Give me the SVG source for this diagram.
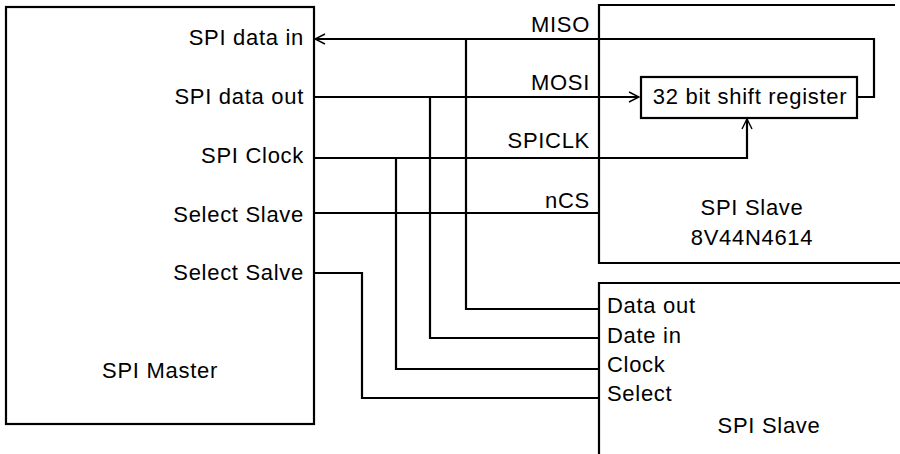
<svg xmlns="http://www.w3.org/2000/svg" width="900" height="454" viewBox="0 0 900 454">
<defs>
<style>
.box{fill:none;stroke:#000;stroke-width:2.2}
.wire{fill:none;stroke:#000;stroke-width:2.2}
.t{font-family:"Liberation Sans",Arial,Helvetica,sans-serif;font-size:22px;letter-spacing:0.7px;fill:#000}
.e{text-anchor:end}
.m{text-anchor:middle}
</style>
<marker id="arr" viewBox="0 0 12 12" refX="11" refY="6" markerWidth="12" markerHeight="12" markerUnits="userSpaceOnUse" orient="auto">
<path d="M1,1 L11,6 L1,11" fill="none" stroke="#000" stroke-width="1.4"/>
</marker>
</defs>
<rect width="900" height="454" fill="#fff"/>
<g id="master">
<rect class="box" x="6" y="7" width="308" height="417"/>
<text class="t e" x="304" y="45">SPI data in</text>
<text class="t e" x="304" y="104">SPI data out</text>
<text class="t e" x="304" y="163">SPI Clock</text>
<text class="t e" x="304" y="222">Select Slave</text>
<text class="t e" x="304" y="280">Select Salve</text>
<text class="t m" x="160" y="378">SPI Master</text>
</g>
<g id="slave1">
<path class="box" d="M895,5 H599 V263 H900"/>
<text class="t e" x="590" y="32">MISO</text>
<text class="t e" x="590" y="90">MOSI</text>
<text class="t e" x="590" y="148">SPICLK</text>
<text class="t e" x="590" y="208">nCS</text>
<text class="t m" x="752" y="215">SPI Slave</text>
<text class="t m" x="752" y="245">8V44N4614</text>
</g>
<g id="shiftreg">
<rect class="box" x="641" y="77" width="216" height="41"/>
<text class="t m" x="750" y="104">32 bit shift register</text>
</g>
<g id="slave2">
<path class="box" d="M900,283 H599 V454"/>
<text class="t" x="607" y="313">Data out</text>
<text class="t" x="607" y="343">Date in</text>
<text class="t" x="607" y="372">Clock</text>
<text class="t" x="607" y="401">Select</text>
<text class="t m" x="769" y="433">SPI Slave</text>
</g>
<g id="connectors">
<path class="wire" d="M857,97 H874 V39 H315" marker-end="url(#arr)"/>
<path class="wire" d="M314,97 H639" marker-end="url(#arr)"/>
<path class="wire" d="M314,158 H747 V119" marker-end="url(#arr)"/>
<path class="wire" d="M314,213 H600"/>
<path class="wire" d="M314,273 H362 V398 H599"/>
<path class="wire" d="M466,39 V309 H599"/>
<path class="wire" d="M430,97 V338 H599"/>
<path class="wire" d="M396,158 V369 H599"/>
</g>
</svg>
